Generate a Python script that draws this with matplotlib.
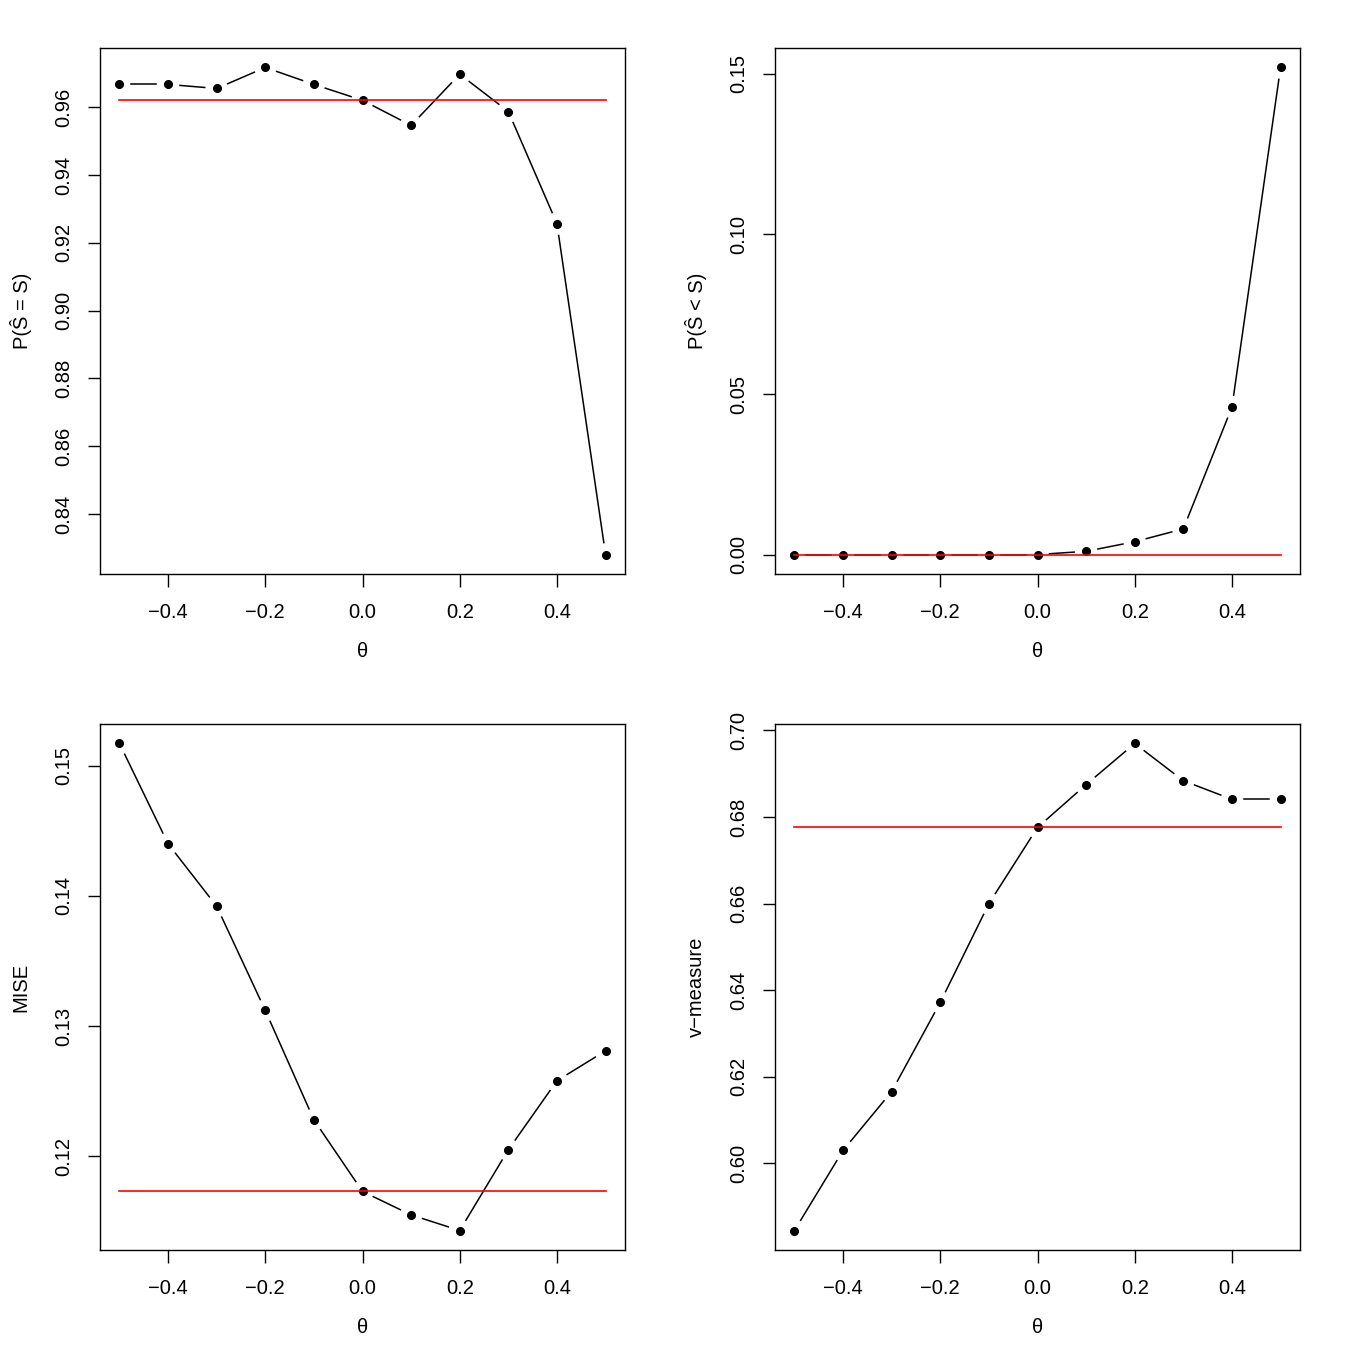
import numpy as np
import matplotlib
matplotlib.use("Agg")
import matplotlib.pyplot as plt

plt.rcParams["font.family"] = ["Liberation Sans", "DejaVu Sans"]

# data
theta = [-0.5, -0.4, -0.3, -0.2, -0.1, 0.0, 0.1, 0.2, 0.3, 0.4, 0.5]
p_exact = [0.9668, 0.9668, 0.9656, 0.9718, 0.9668, 0.9621, 0.9547, 0.9698, 0.9588, 0.9257, 0.8280]
p_under = [0.0, 0.0, 0.0, 0.0, 0.0, 0.0, 0.001, 0.004, 0.008, 0.046, 0.152]
mise = [0.1517, 0.1440, 0.1392, 0.1312, 0.1228, 0.1173, 0.1155, 0.1143, 0.1205, 0.1258, 0.1281]
vmeasure = [0.5845, 0.6030, 0.6166, 0.6372, 0.6600, 0.6776, 0.6875, 0.6970, 0.6884, 0.6841, 0.6841]
ref_exact = 0.9621
ref_under = 0.0
ref_mise = 0.1173
ref_vmeasure = 0.6776

x_ticks = [-0.4, -0.2, 0.0, 0.2, 0.4]
x_ticklabels = ["\u22120.4", "\u22120.2", "0.0", "0.2", "0.4"]
yt_exact = [0.84, 0.86, 0.88, 0.90, 0.92, 0.94, 0.96]
yt_under = [0.00, 0.05, 0.10, 0.15]
yt_mise = [0.12, 0.13, 0.14, 0.15]
yt_vm = [0.60, 0.62, 0.64, 0.66, 0.68, 0.70]

FS = 14.5


def panel(fig, rect, y, ref, yticks, ylabels, ylab):
    ax = fig.add_axes(rect)
    lo, hi = min(min(y), ref), max(max(y), ref)
    r = hi - lo
    ax.set_ylim(lo - 0.04 * r, hi + 0.04 * r)
    ax.set_xlim(-0.54, 0.54)

    # R type="b": segments stop short of the points
    pts = ax.transData.transform(np.column_stack([theta, y]))
    inv = ax.transData.inverted()
    gap = 12
    for p0, p1 in zip(pts[:-1], pts[1:]):
        d = p1 - p0
        L = np.hypot(*d)
        if L <= 2 * gap:
            continue
        u = d / L
        seg = inv.transform(np.array([p0 + u * gap, p1 - u * gap]))
        ax.plot(seg[:, 0], seg[:, 1], color="black", lw=1.1)
    ax.plot(theta, y, "o", ms=5.5, color="black")
    ax.plot([theta[0], theta[-1]], [ref, ref], color="red", lw=1.2)

    ax.set_xticks(x_ticks)
    ax.set_xticklabels(x_ticklabels)
    ax.set_yticks(yticks)
    ax.set_yticklabels(ylabels, rotation=90, va="center")
    ax.tick_params(direction="out", length=9, width=1, labelsize=FS)
    ax.tick_params(axis="x", pad=12)
    ax.tick_params(axis="y", pad=10)
    for s in ax.spines.values():
        s.set_linewidth(1)
    ax.text(0.5, -0.148, "\u03b8", transform=ax.transAxes, ha="center", va="center", fontsize=FS)
    ax.text(-0.15, 0.5, ylab, transform=ax.transAxes, ha="center", va="center",
            rotation=90, fontsize=FS)
    return ax


fig = plt.figure(figsize=(13.5, 13.5), dpi=100)
W = 525 / 1350
H = 526 / 1350
L1, L2 = 100 / 1350, 775 / 1350
B1, B2 = 1 - 574 / 1350, 1 - 1250 / 1350

panel(fig, [L1, B1, W, H], p_exact, ref_exact, yt_exact, [f"{v:.2f}" for v in yt_exact], "P(\u015c = S)")
panel(fig, [L2, B1, W, H], p_under, ref_under, yt_under, [f"{v:.2f}" for v in yt_under], "P(\u015c < S)")
panel(fig, [L1, B2, W, H], mise, ref_mise, yt_mise, [f"{v:.2f}" for v in yt_mise], "MISE")
panel(fig, [L2, B2, W, H], vmeasure, ref_vmeasure, yt_vm, [f"{v:.2f}" for v in yt_vm], "v\u2212measure")

fig.savefig("out.png", dpi=100)
